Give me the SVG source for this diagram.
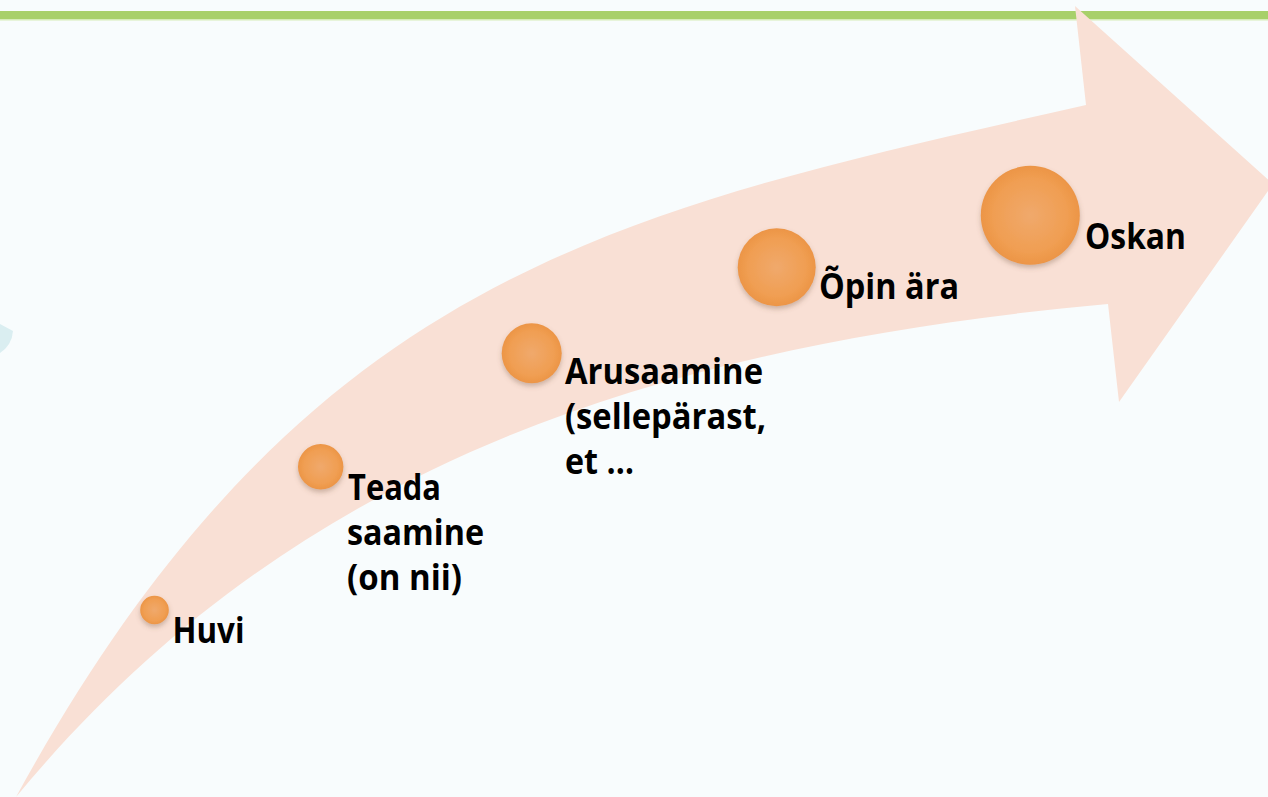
<svg xmlns="http://www.w3.org/2000/svg" width="1268" height="797" viewBox="0 0 1268 797">
  <defs>
    <radialGradient id="ball" cx="50%" cy="50%" r="50%">
      <stop offset="0" stop-color="#F0A96C"/>
      <stop offset="0.75" stop-color="#F09E52"/>
      <stop offset="1" stop-color="#EC9546"/>
    </radialGradient>
    <filter id="shadow" x="-30%" y="-30%" width="160%" height="170%">
      <feDropShadow dx="0" dy="3" stdDeviation="2.5" flood-color="#7a5a40" flood-opacity="0.35"/>
    </filter>
    <style>
      .ball { fill: url(#ball); filter: url(#shadow); }
      .lbl { font-family: "Open Sans", "Liberation Sans", sans-serif; font-weight: bold; font-size: 36px; fill: #000; }
    </style>
  </defs>
  <rect width="1268" height="797" fill="#F8FCFD"/>
  <rect x="0" y="11" width="1268" height="8" fill="#A8D06A"/>
  <rect x="0" y="19" width="1268" height="1.5" fill="#D6ECB8"/>
  <path d="M0,324 L13,331 Q12,345 0,353 Z" fill="#DAEEF1"/>

  <g id="connectors">
    <path id="arrow" d="M16,797 C304,271 618,211 1086,105 L1075,6 L1273,184 L1119,402 L1108,304 C610,349 271,489 16,797 Z" fill="#F9E0D5"/>
  </g>

  <g id="huvi">
    <circle class="ball" cx="154.5" cy="610" r="14.3"/>
    <text class="lbl" x="172.5" y="643" textLength="72" lengthAdjust="spacingAndGlyphs">Huvi</text>
  </g>
  <g id="teada">
    <circle class="ball" cx="320.7" cy="466.7" r="22.7"/>
    <text class="lbl" x="348" y="500" textLength="93" lengthAdjust="spacingAndGlyphs">Teada</text>
    <text class="lbl" x="347" y="545" textLength="137" lengthAdjust="spacingAndGlyphs">saamine</text>
    <text class="lbl" x="347" y="590" textLength="115" lengthAdjust="spacingAndGlyphs">(on nii)</text>
  </g>
  <g id="arusaamine">
    <circle class="ball" cx="531.7" cy="353.3" r="30"/>
    <text class="lbl" x="565" y="384" textLength="198" lengthAdjust="spacingAndGlyphs">Arusaamine</text>
    <text class="lbl" x="565" y="429" textLength="201" lengthAdjust="spacingAndGlyphs">(sellepärast,</text>
    <text class="lbl" x="565" y="474" textLength="69" lengthAdjust="spacingAndGlyphs">et …</text>
  </g>
  <g id="opin">
    <circle class="ball" cx="776.7" cy="267.3" r="39"/>
    <text class="lbl" x="819" y="299" textLength="140" lengthAdjust="spacingAndGlyphs">Õpin ära</text>
  </g>
  <g id="oskan">
    <circle class="ball" cx="1030.3" cy="215.3" r="49.5"/>
    <text class="lbl" x="1085" y="248.5" textLength="101" lengthAdjust="spacingAndGlyphs">Oskan</text>
  </g>
</svg>
